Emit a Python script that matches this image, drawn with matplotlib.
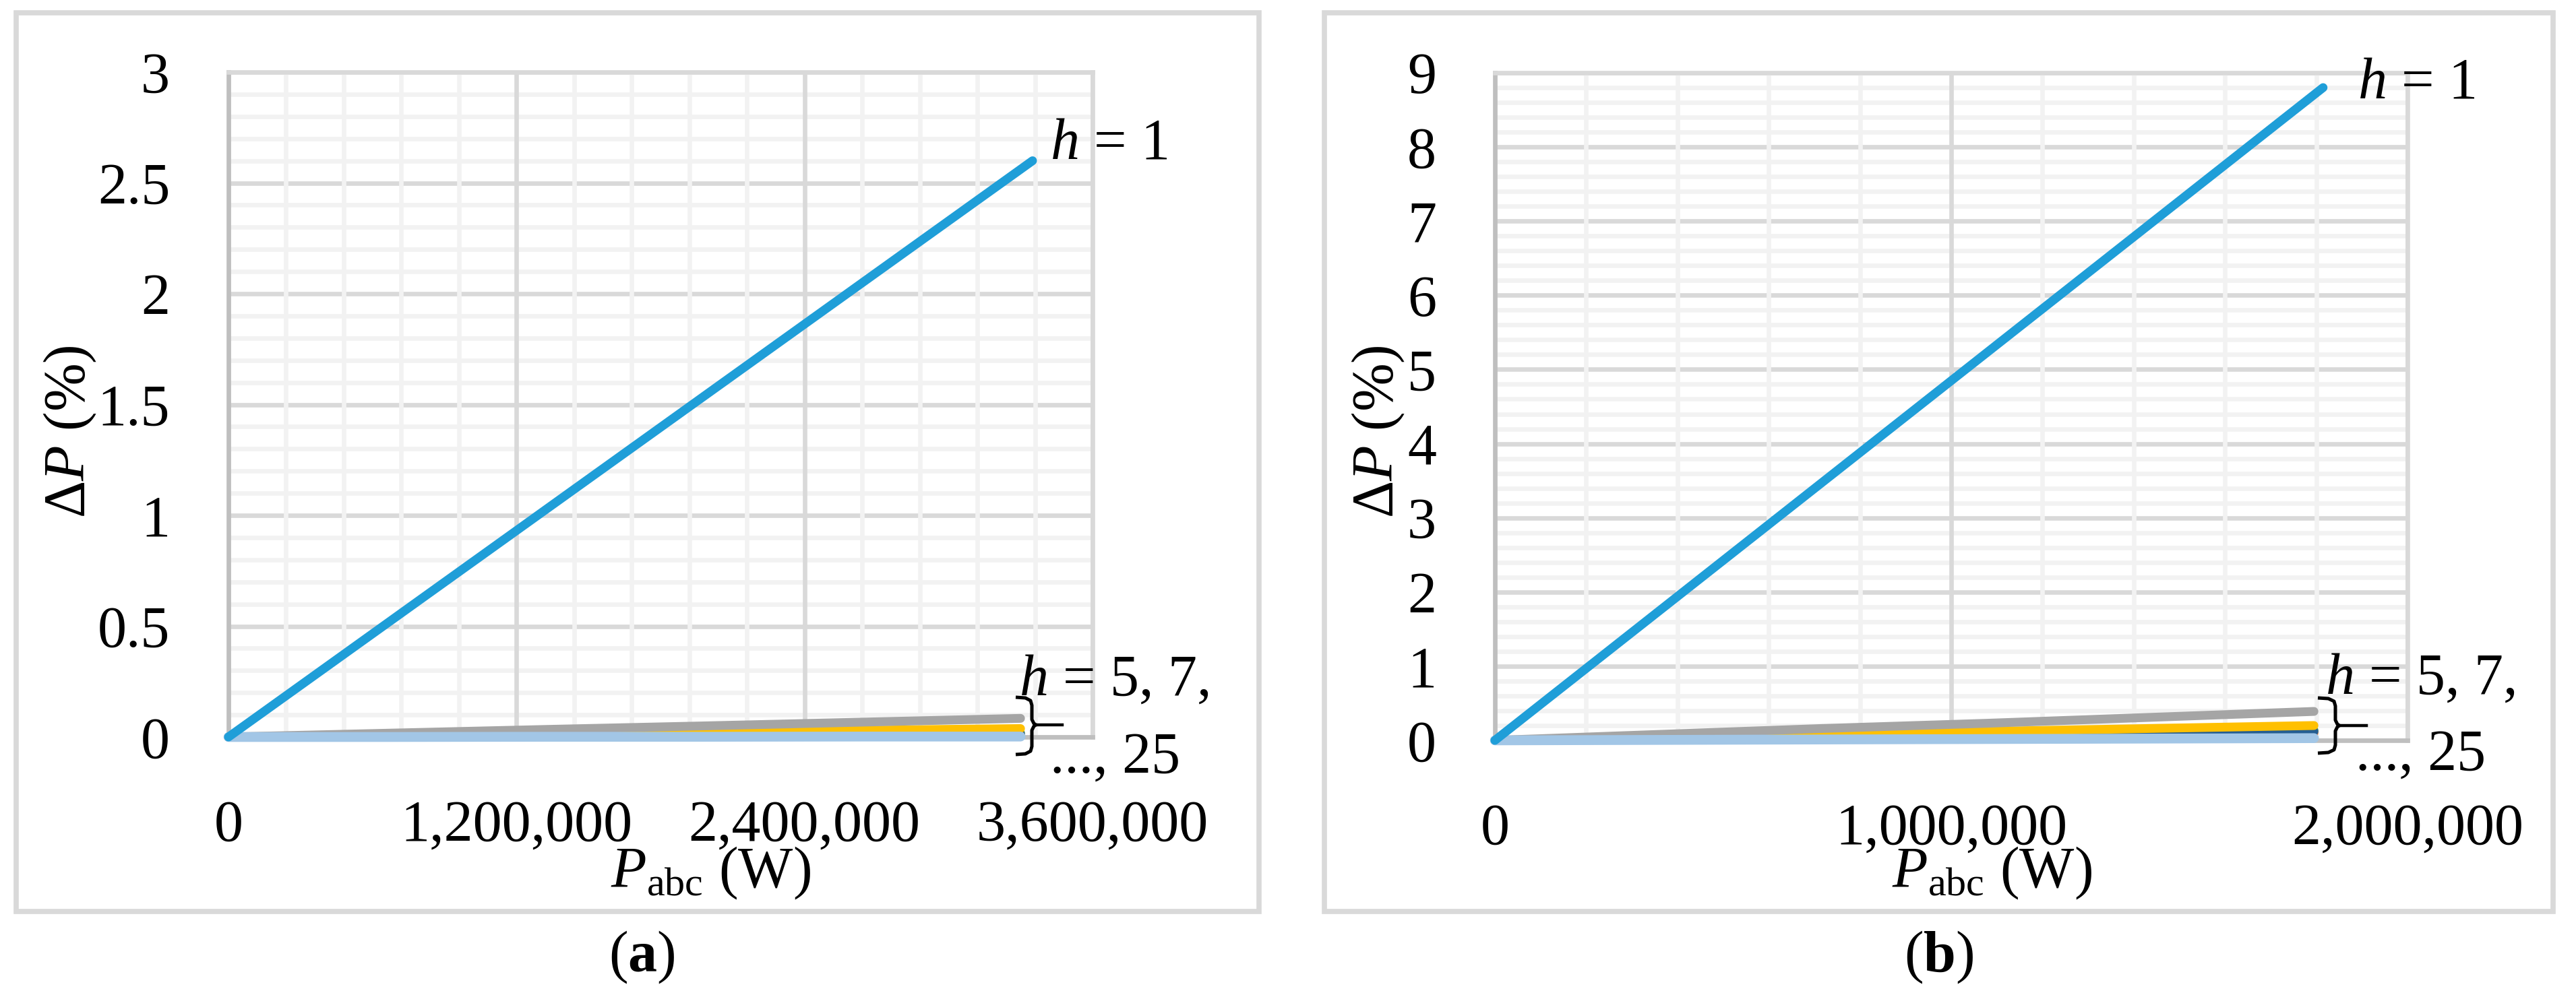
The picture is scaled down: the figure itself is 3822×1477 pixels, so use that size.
import matplotlib
matplotlib.use("Agg")
import matplotlib.pyplot as plt
from matplotlib.lines import Line2D
from matplotlib.patches import Rectangle

plt.rcParams['font.family'] = ['Liberation Serif', 'DejaVu Serif']
plt.rcParams['mathtext.fontset'] = 'custom'
plt.rcParams['mathtext.rm'] = 'Liberation Serif'
plt.rcParams['mathtext.it'] = 'Liberation Serif:italic'
plt.rcParams['mathtext.bf'] = 'Liberation Serif:bold'

# ---------------- data : panel (a) ----------------
P_a_h1 = [0, 670000, 1340000, 2010000, 2680000, 3350000]
dP_a_h1 = [0, 0.52, 1.04, 1.56, 2.08, 2.60]
P_a = [0, 660000, 1320000, 1980000, 2640000, 3300000]
dP_a_gray = [0, 0.017, 0.034, 0.050, 0.067, 0.084]
dP_a_yellow = [0, 0.008, 0.015, 0.023, 0.030, 0.038]
dP_a_green = [0, 0.004, 0.007, 0.011, 0.014, 0.018]
dP_a_darkblue = [0, 0.003, 0.005, 0.008, 0.010, 0.013]
dP_a_orange = [0, 0.002, 0.004, 0.006, 0.008, 0.010]
dP_a_lightblue = [0, 0.000, 0.001, 0.001, 0.002, 0.002]
xticks_a = [0, 1200000, 2400000, 3600000]
xticklabels_a = ["0", "1,200,000", "2,400,000", "3,600,000"]
yticks_a = [0, 0.5, 1, 1.5, 2, 2.5, 3]
yticklabels_a = ["0", "0.5", "1", "1.5", "2", "2.5", "3"]

# ---------------- data : panel (b) ----------------
P_b_h1 = [0, 363000, 726000, 1089000, 1452000, 1815000]
dP_b_h1 = [0, 1.76, 3.52, 5.28, 7.04, 8.80]
P_b = [0, 359000, 718000, 1077000, 1436000, 1795000]
dP_b_gray = [0, 0.08, 0.16, 0.23, 0.31, 0.39]
dP_b_yellow = [0, 0.04, 0.08, 0.12, 0.16, 0.20]
dP_b_green = [0, 0.027, 0.054, 0.080, 0.107, 0.135]
dP_b_darkblue = [0, 0.024, 0.048, 0.072, 0.096, 0.120]
dP_b_orange = [0, 0.020, 0.040, 0.060, 0.080, 0.100]
dP_b_lightblue = [0, 0.006, 0.012, 0.018, 0.024, 0.030]
xticks_b = [0, 1000000, 2000000]
xticklabels_b = ["0", "1,000,000", "2,000,000"]
yticks_b = [0, 1, 2, 3, 4, 5, 6, 7, 8, 9]
yticklabels_b = ["0", "1", "2", "3", "4", "5", "6", "7", "8", "9"]

C_H1 = '#1F9ED8'
C_GRAY = '#A5A5A5'
C_YELLOW = '#FFC000'
C_GREEN = '#5DAA3C'
C_DBLUE = '#255E91'
C_ORANGE = '#ED7D31'
C_LBLUE = '#A2C6E6'

W, H = 3823, 1477
DPI = 100
fig = plt.figure(figsize=(W / DPI, H / DPI), dpi=DPI)
fig.patch.set_facecolor('white')


def fx(x):
    return x / W


def fy(y):
    return 1 - y / H


FS = 62
GRID_LW = 4.8


def setup_axes(rect_px, xmax, ymax, xt, xtl, xminor, yt, ytl, yminor):
    x0, y0, x1, y1 = rect_px
    ax = fig.add_axes([fx(x0), fy(y1), (x1 - x0) / W, (y1 - y0) / H])
    ax.set_xlim(0, xmax)
    ax.set_ylim(0, ymax)
    ax.set_xticks(xt)
    ax.set_xticklabels(xtl)
    ax.set_yticks(yt)
    ax.set_yticklabels(ytl)
    ax.set_xticks(xminor, minor=True)
    ax.set_yticks(yminor, minor=True)
    ax.set_axisbelow(True)
    ax.grid(which='major', color='#D9D9D9', lw=GRID_LW)
    ax.grid(which='minor', color='#F2F2F2', lw=GRID_LW)
    ax.xaxis.set_zorder(0.6)
    ax.tick_params(which='both', length=0)
    ax.tick_params(axis='y', pad=62.5, labelsize=FS)
    ax.tick_params(axis='x', pad=67, labelsize=FS)
    for s in ['left', 'bottom']:
        ax.spines[s].set_color('#BFBFBF')
        ax.spines[s].set_linewidth(GRID_LW)
    for s in ['top', 'right']:
        ax.spines[s].set_color('#D9D9D9')
        ax.spines[s].set_linewidth(GRID_LW)
    return ax


def plot_series(ax, x, y, color, lw=9.4):
    ax.plot(x, y, color=color, lw=lw, solid_capstyle='round',
            solid_joinstyle='round', clip_on=False, zorder=3)


# panel frames
for (l, r) in [(24, 1868), (1965, 3788)]:
    fig.add_artist(Rectangle((fx(l), fy(1353)), (r - l) / W, (1353 - 19) / H,
                             fill=False, ec='#D9D9D9', lw=5.5,
                             transform=fig.transFigure))

# ---------------- panel (a) ----------------
ax1 = setup_axes((339, 107, 1621, 1094), 3600000, 3, xticks_a, xticklabels_a,
                 [i * 240000 for i in range(16)], yticks_a, yticklabels_a,
                 [i * 0.1 for i in range(31)])
plot_series(ax1, P_a, dP_a_orange, C_ORANGE)
plot_series(ax1, P_a, dP_a_green, C_GREEN)
plot_series(ax1, P_a, dP_a_darkblue, C_DBLUE)
plot_series(ax1, P_a, dP_a_yellow, C_YELLOW)
plot_series(ax1, P_a, dP_a_gray, C_GRAY)
plot_series(ax1, P_a, dP_a_lightblue, C_LBLUE, lw=10.5)
plot_series(ax1, P_a_h1, dP_a_h1, C_H1)

# ---------------- panel (b) ----------------
ax2 = setup_axes((2218, 108, 3572, 1099), 2000000, 9, xticks_b, xticklabels_b,
                 [i * 200000 for i in range(11)], yticks_b, yticklabels_b,
                 [i * 0.2 for i in range(46)])
plot_series(ax2, P_b, dP_b_orange, C_ORANGE)
plot_series(ax2, P_b, dP_b_green, C_GREEN)
plot_series(ax2, P_b, dP_b_darkblue, C_DBLUE)
plot_series(ax2, P_b, dP_b_yellow, C_YELLOW)
plot_series(ax2, P_b, dP_b_gray, C_GRAY)
plot_series(ax2, P_b, dP_b_lightblue, C_LBLUE, lw=10.5)
plot_series(ax2, P_b_h1, dP_b_h1, C_H1)

# ---------------- texts ----------------
for xc in (104, 2045):
    fig.text(fx(xc), fy(641), 'Δ$P$ (%)', rotation=90, ha='center',
             va='center', fontsize=FS)
for xl in (906, 2807):
    fig.text(fx(xl), fy(1317), r'$P_{\mathrm{abc}}$ (W)', ha='left',
             va='baseline', fontsize=FS)
fig.text(fx(952), fy(1442), r'($\mathbf{a}$)', ha='center', va='baseline',
         fontsize=FS)
fig.text(fx(2877), fy(1442), r'($\mathbf{b}$)', ha='center', va='baseline',
         fontsize=FS)

# h = 1 labels
fig.text(fx(1558), fy(235), '$h$ = 1', ha='left', va='baseline', fontsize=FS)
fig.text(fx(3498), fy(145), '$h$ = 1', ha='left', va='baseline', fontsize=FS)

# harmonic labels
fig.text(fx(1512), fy(1032), '$h$ = 5, 7,', ha='left', va='baseline',
         fontsize=FS)
fig.text(fx(1558), fy(1147), '..., 25', ha='left', va='baseline', fontsize=FS)
fig.text(fx(3450), fy(1030), '$h$ = 5, 7,', ha='left', va='baseline',
         fontsize=FS)
fig.text(fx(3495), fy(1143), '..., 25', ha='left', va='baseline', fontsize=FS)


def brace(x0, x1, x2, yt, ym, yb):
    up = [(x0, yt), (x0 + (x1 - x0) * 0.6, yt + 1), (x1 - 2, yt + 5),
          (x1, yt + 12), (x1, ym - 8), (x1 + 3, ym - 2), (x1 + 6, ym)]
    lo = [(x1 + 6, ym), (x1 + 3, ym + 2), (x1, ym + 8), (x1, yb - 12),
          (x1 - 2, yb - 5), (x0 + (x1 - x0) * 0.6, yb - 1), (x0, yb)]
    for pts in (up, lo):
        fig.add_artist(Line2D([fx(p[0]) for p in pts], [fy(p[1]) for p in pts],
                              color='black', lw=3.6, solid_capstyle='butt',
                              transform=fig.transFigure))
    fig.add_artist(Line2D([fx(x1 + 4), fx(x2)], [fy(ym), fy(ym)],
                          color='black', lw=3.2, transform=fig.transFigure))


brace(1507, 1531, 1576, 1035, 1076, 1120)
brace(3439, 3465, 3511, 1036, 1077, 1118)

fig.savefig('out.png', dpi=DPI, facecolor='white')
